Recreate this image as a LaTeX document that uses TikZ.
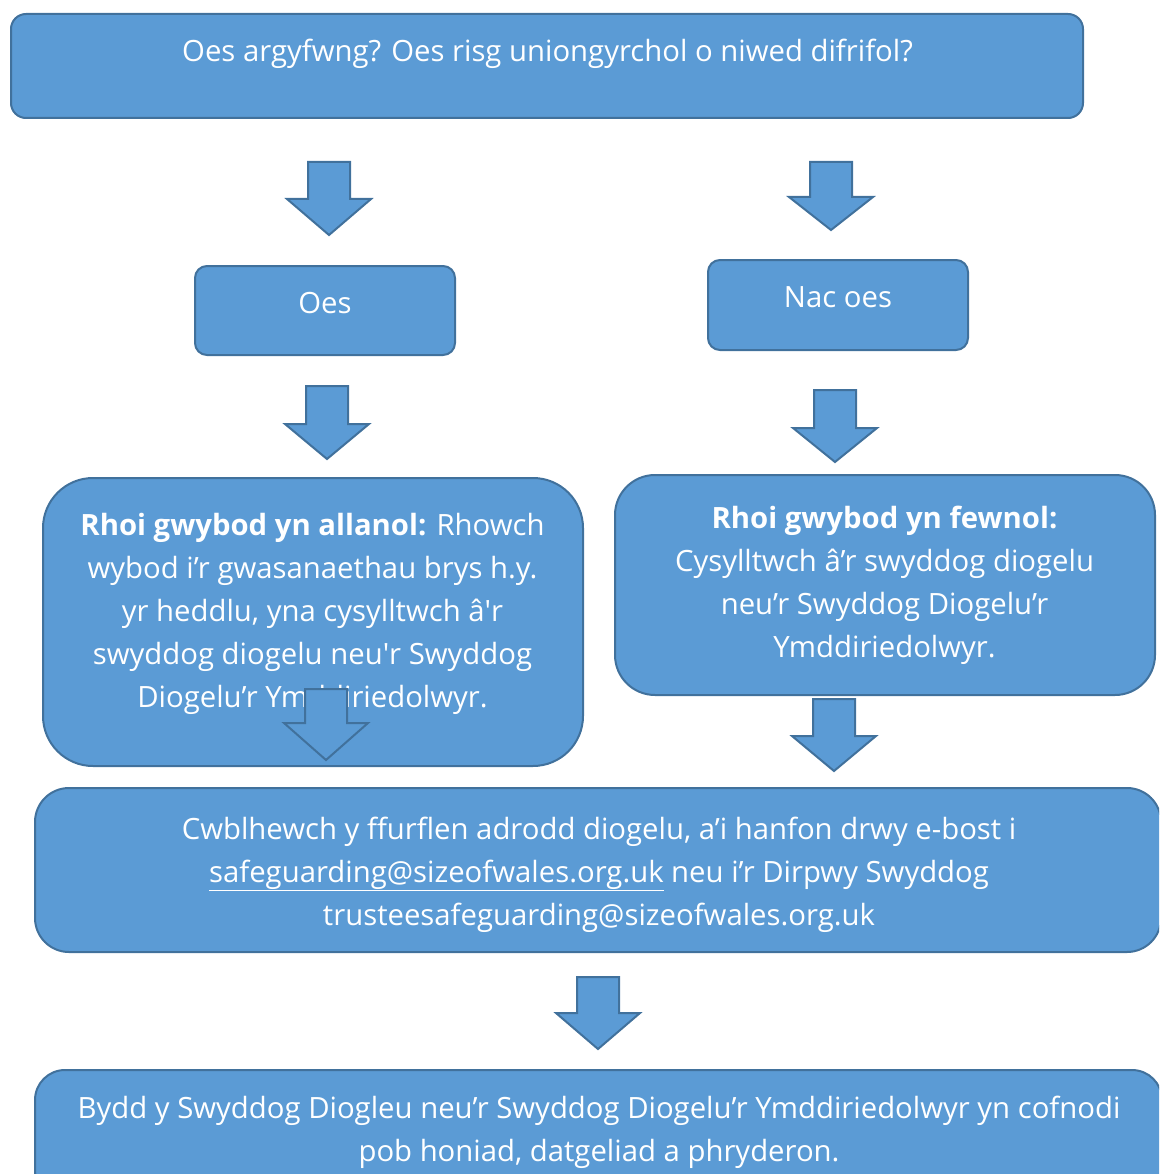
\documentclass[tikz,border=0pt]{standalone}
\usepackage{fontspec}
\setmainfont{Open Sans}
\definecolor{fillblue}{HTML}{5B9BD5}
\definecolor{edgeblue}{HTML}{41719C}
\newcommand\blockdown[4]{%
  \draw[blockarrow] (#1-21,#2) -- (#1+21,#2) -- (#1+21,#3) -- (#1+42,#3) -- (#1,#4) -- (#1-42,#3) -- (#1-21,#3) -- cycle;}
\newcommand\sq{\textquotesingle}
\begin{document}
\begin{tikzpicture}[x=1pt,y=-1pt,
  box/.style={draw=edgeblue, fill=fillblue, line width=2pt, inner sep=0pt},
  blockarrow/.style={draw=edgeblue, fill=fillblue, line width=2pt, line join=miter},
  txt/.style={text=white, inner sep=0pt, anchor=base, font=\fontsize{29.3}{43}\selectfont}]
\useasboundingbox (0,0) rectangle (1159,1174);
\clip (0,0) rectangle (1159,1174);
% boxes
\node[box, rounded corners=15pt, minimum width=1072pt, minimum height=104pt] (q) at (547,66) {};
\node[box, rounded corners=12pt, minimum width=260pt, minimum height=89pt] (oes) at (325,310.5) {};
\node[box, rounded corners=12pt, minimum width=260pt, minimum height=90pt] (nac) at (838,305) {};
\node[box, rounded corners=50pt, minimum width=540pt, minimum height=288pt] (left) at (313,622) {};
\node[box, rounded corners=40pt, minimum width=540pt, minimum height=220pt] (right) at (885,585) {};
\node[box, rounded corners=34pt, minimum width=1126pt, minimum height=164pt] (form) at (598,870) {};
\node[box, rounded corners=30pt, minimum width=1127pt, minimum height=130pt] (record) at (598.5,1135) {};
% texts
\node[txt] (tq) at (547.5,62) {Oes argyfwng? Oes risg uniongyrchol o niwed difrifol?};
\node[txt] (toes) at (325,313) {Oes};
\node[txt] (tnac) at (838,307) {Nac oes};
\node[txt] (tleft) at (312.5,535) {\begin{tabular}[t]{@{}c@{}}\textbf{Rhoi gwybod yn allanol:} Rhowch\\ wybod i’r gwasanaethau brys h.y.\\ yr heddlu, yna cysylltwch â\sq r\\ swyddog diogelu neu\sq r Swyddog\\ Diogelu’r Ymddiriedolwyr.\end{tabular}};
\node[txt] (tright) at (884.5,528) {\begin{tabular}[t]{@{}c@{}}\textbf{Rhoi gwybod yn fewnol:}\\ Cysylltwch â’r swyddog diogelu\\ neu’r Swyddog Diogelu’r\\ Ymddiriedolwyr.\end{tabular}};
\node[txt] (tform) at (599,839) {\begin{tabular}[t]{@{}c@{}}Cwblhewch y ffurflen adrodd diogelu, a’i hanfon drwy e-bost i\\ \underline{safeguarding@sizeofwales.org.uk} neu i’r Dirpwy Swyddog\\ trusteesafeguarding@sizeofwales.org.uk\end{tabular}};
\node[txt] (trecord) at (599,1118) {\begin{tabular}[t]{@{}c@{}}Bydd y Swyddog Diogleu neu’r Swyddog Diogelu’r Ymddiriedolwyr yn cofnodi\\ pob honiad, datgeliad a phryderon.\end{tabular}};
% block arrows
\blockdown{329}{162}{199}{235}
\blockdown{831}{162}{197}{230}
\blockdown{327}{386}{424}{459}
\blockdown{835}{390}{428}{462}
\blockdown{326}{689}{723}{760}
\blockdown{834}{699}{736}{771}
\blockdown{598}{977}{1013}{1049}
\end{tikzpicture}
\end{document}
